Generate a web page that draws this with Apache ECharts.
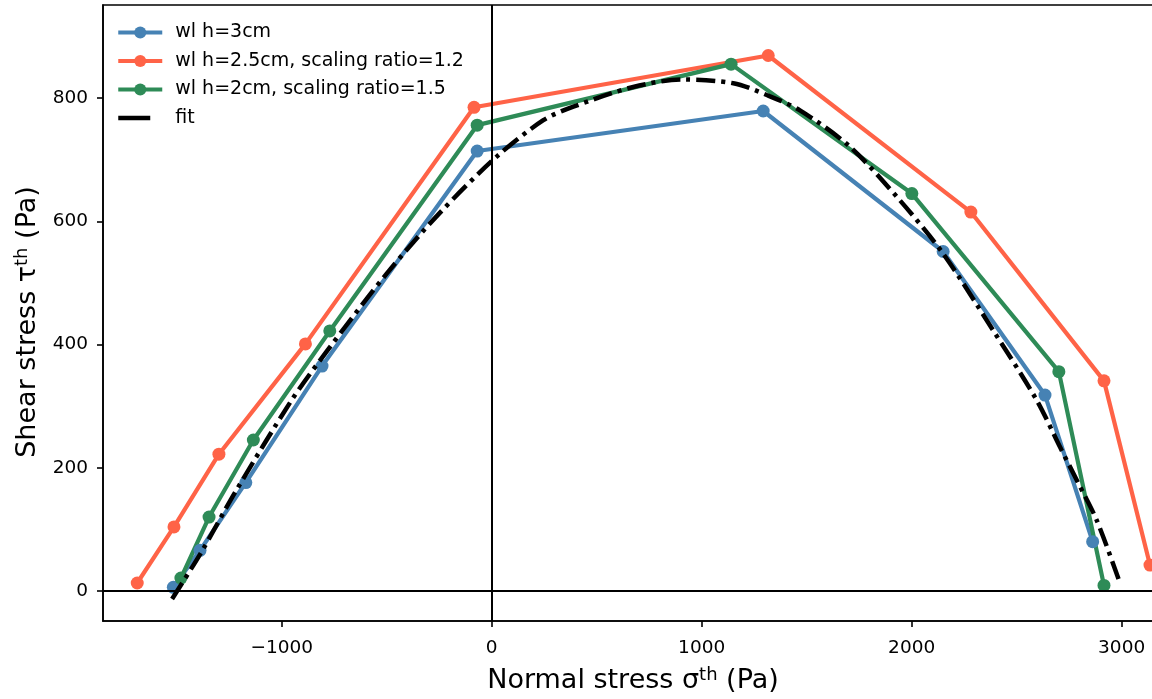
<!DOCTYPE html>
<html lang="en">
<head>
    <meta charset="UTF-8">
    <script src="https://cdn.jsdelivr.net/npm/echarts@6/dist/echarts.min.js"></script>
    <title>Shear vs normal stress</title>
    <style>
        html, body{
            margin: 0;
            padding: 0;
            background: #fff;
        }
        #chart{
            width: 1152px;
            height: 699px;
        }
    </style>
</head>
<body>
    <div id="chart"></div>
    <script>
        // 读图得到的数据 (sigma, tau)
        const h3X = [-1516, -1389, -1171, -808, -69, 1293, 2150, 2635, 2862]
        const h3Y = [6, 66, 176, 365, 714, 779, 551, 318, 80]

        const h25X = [-1688, -1513, -1299, -887, -84, 1317, 2282, 2916, 3135]
        const h25Y = [13, 104, 222, 401, 785, 869, 615, 341, 42]

        const h2X = [-1480, -1346, -1135, -771, -69, 1140, 2001, 2701, 2916]
        const h2Y = [21, 120, 245, 422, 756, 855, 645, 356, 9]

        const fitX = [-1522, -1381, -1222, -952, -783, -500, -246, 24, 246, 389, 674, 912, 1151, 1310, 1468, 1706, 1944, 2149, 2388, 2595, 2706, 2786, 2881, 2992]
        const fitY = [-13, 64, 160, 310, 390, 515, 614, 705, 764, 786, 818, 830, 824, 805, 780, 721, 634, 548, 423, 310, 234, 180, 115, 13]

        const xTicks = [-1000, 0, 1000, 2000, 3000]
        const yTicks = [0, 200, 400, 600, 800]

        const names = ['wl h=3cm', 'wl h=2.5cm, scaling ratio=1.2', 'wl h=2cm, scaling ratio=1.5', 'fit']
        const colors = ['#4682b4', '#ff6347', '#2e8b57', '#000000']

        const zip = (xs, ys) => xs.map((x, i) => [x, ys[i]])
        const font = 'DejaVu Sans'

        function pointSeries(name, xs, ys, color){
            return {
                name: name,
                type: 'line',
                data: zip(xs, ys),
                symbol: 'circle',
                symbolSize: 13,
                showSymbol: true,
                lineStyle: { color: color, width: 4.2 },
                itemStyle: { color: color },
                z: 3
            }
        }

        let myChart = echarts.init(document.getElementById('chart'), null, { renderer: 'canvas' })
        let option = {
            backgroundColor: '#fff',
            textStyle: { fontFamily: font },
            animation: false,
            grid: {
                left: 103,
                top: 5,
                width: 1060,
                height: 616,
                outerBoundsMode: 'none',
                containLabel: false,
                show: true,
                borderColor: '#000',
                borderWidth: 1.6,
                backgroundColor: 'transparent'
            },
            legend: {
                left: 116,
                top: 23,
                orient: 'vertical',
                itemWidth: 44,
                itemHeight: 15,
                itemGap: 9.5,
                padding: 0,
                lineStyle: { width: 4.2 },
                data: [
                    names[0], names[1], names[2],
                    { name: names[3], itemStyle: { opacity: 0 }, lineStyle: { type: [32, 30], width: 4.5 } }
                ],
                textStyle: {
                    fontFamily: font,
                    fontSize: 19,
                    color: '#000',
                    padding: [0, 0, 0, 8]
                }
            },
            xAxis: {
                type: 'value',
                min: -1851,
                max: 3197,
                name: 'Normal stress σ{sup|th} (Pa)',
                nameLocation: 'middle',
                nameGap: 45,
                nameTextStyle: {
                    fontFamily: font,
                    fontSize: 27,
                    color: '#000',
                    rich: {
                        sup: { fontFamily: font, fontSize: 18, verticalAlign: 'top', padding: [0, 0, 12, 0] }
                    }
                },
                splitLine: { show: false },
                axisLine: { show: true, onZero: false, lineStyle: { color: '#000', width: 1.6 } },
                axisTick: { show: true, inside: false, length: 6, customValues: xTicks, lineStyle: { color: '#000', width: 1.6 } },
                axisLabel: {
                    customValues: xTicks,
                    fontFamily: font,
                    fontSize: 18.5,
                    color: '#000',
                    margin: 18,
                    formatter: v => String(v).replace('-', '\u2212')
                }
            },
            yAxis: {
                type: 'value',
                min: -48.7,
                max: 951,
                name: 'Shear stress τ{sup|th} (Pa)',
                nameLocation: 'middle',
                nameGap: 58,
                nameTextStyle: {
                    fontFamily: font,
                    fontSize: 27,
                    color: '#000',
                    padding: [0, 18, 0, 0],
                    rich: {
                        sup: { fontFamily: font, fontSize: 18, verticalAlign: 'top', padding: [0, 0, 12, 0] }
                    }
                },
                splitLine: { show: false },
                axisLine: { show: true, onZero: false, lineStyle: { color: '#000', width: 1.6 } },
                axisTick: { show: true, inside: false, length: 6, customValues: yTicks, lineStyle: { color: '#000', width: 1.6 } },
                axisLabel: {
                    customValues: yTicks,
                    fontFamily: font,
                    fontSize: 18.5,
                    color: '#000',
                    margin: 15
                }
            },
            series: [
                pointSeries(names[0], h3X, h3Y, colors[0]),
                pointSeries(names[1], h25X, h25Y, colors[1]),
                pointSeries(names[2], h2X, h2Y, colors[2]),
                {
                    name: names[3],
                    type: 'line',
                    data: zip(fitX, fitY),
                    symbol: 'none',
                    smooth: 0.3,
                    lineStyle: { color: '#000', width: 4.5, type: [19, 6, 4, 6] },
                    itemStyle: { color: '#000' },
                    z: 4
                },
                // 零线 (axhline / axvline)
                {
                    name: 'zero',
                    type: 'line',
                    data: [],
                    z: 5,
                    markLine: {
                        silent: true,
                        symbol: ['none', 'none'],
                        label: { show: false },
                        lineStyle: { color: '#000', width: 2, type: 'solid' },
                        data: [{ xAxis: 0 }, { yAxis: 0 }]
                    }
                }
            ]
        }
        myChart.setOption(option)
    </script>
</body>
</html>
